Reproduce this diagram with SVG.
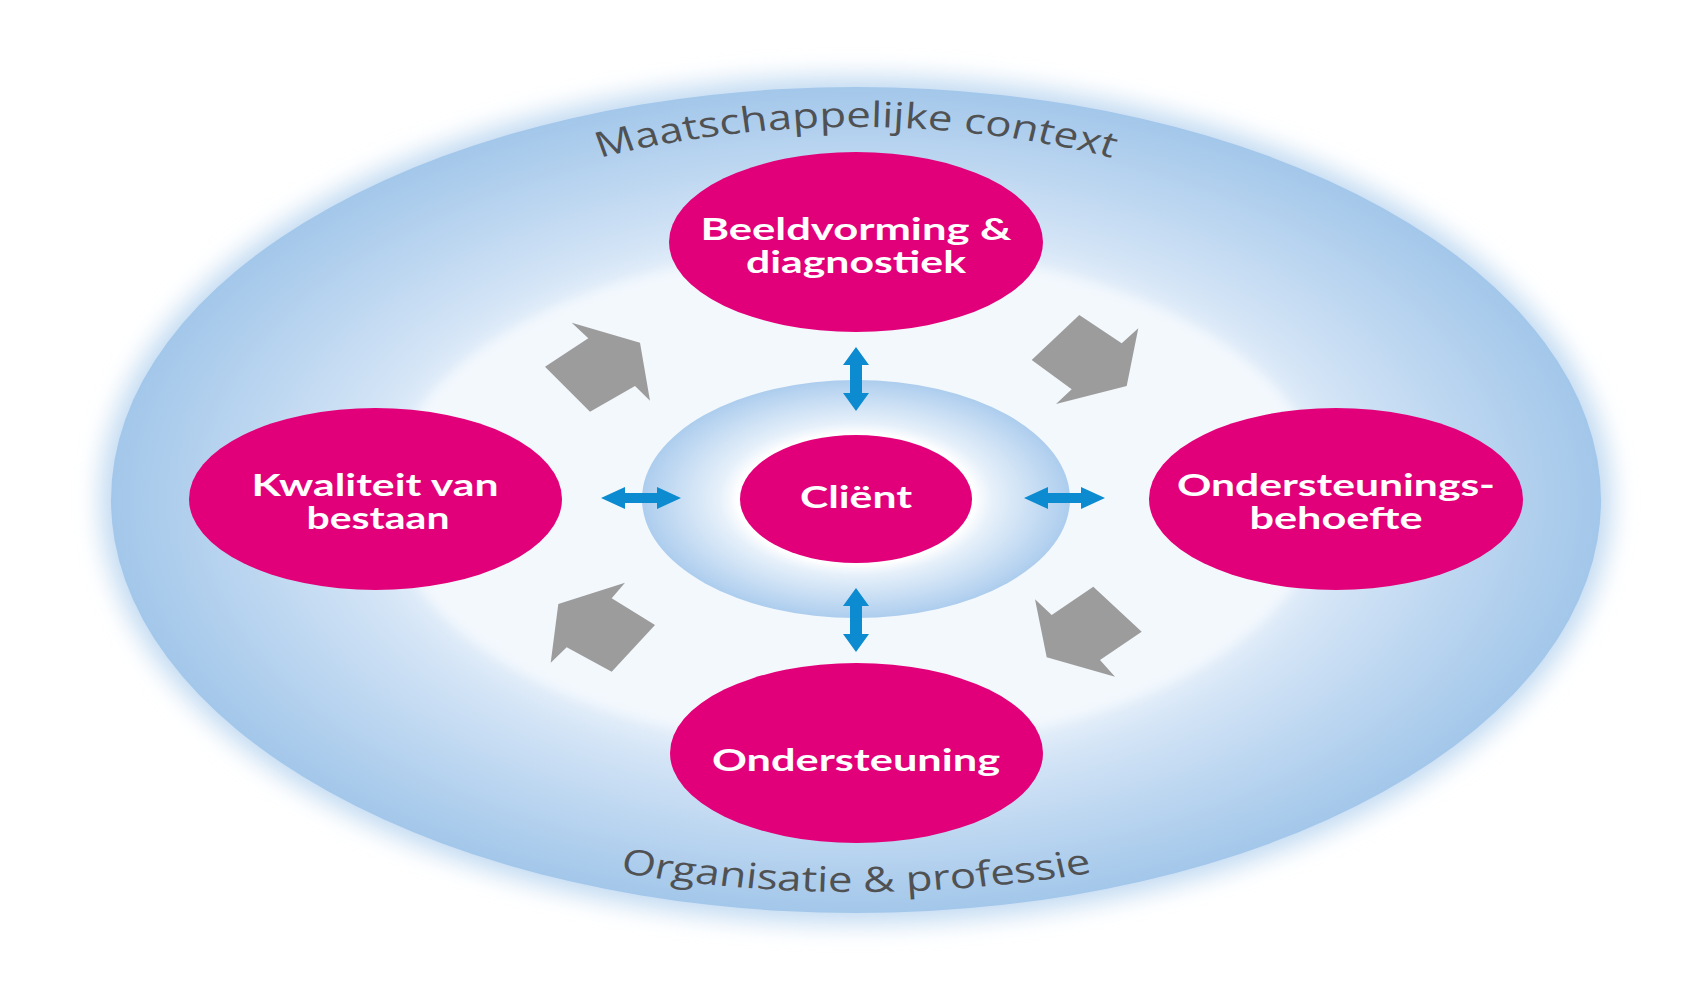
<svg xmlns="http://www.w3.org/2000/svg" width="1694" height="990" viewBox="0 0 1694 990">
  <defs>
    <radialGradient id="gOuter" cx="0.5" cy="0.5" r="0.5">
      <stop offset="0" stop-color="#f4f8fd"/>
      <stop offset="0.58" stop-color="#eaf2fb"/>
      <stop offset="0.68" stop-color="#d3e4f6"/>
      <stop offset="0.84" stop-color="#bad5f0"/>
      <stop offset="1" stop-color="#a3c7ea"/>
    </radialGradient>
    <radialGradient id="gRing" cx="0.5" cy="0.5" r="0.5">
      <stop offset="0" stop-color="#ffffff"/>
      <stop offset="0.55" stop-color="#ffffff"/>
      <stop offset="0.64" stop-color="#e6f0fa"/>
      <stop offset="0.82" stop-color="#cadff4"/>
      <stop offset="1" stop-color="#adcdee"/>
    </radialGradient>
    <filter id="fHalo" x="-10%" y="-10%" width="120%" height="120%">
      <feGaussianBlur stdDeviation="12"/>
    </filter>
    <filter id="fSoft" x="-10%" y="-10%" width="120%" height="120%">
      <feGaussianBlur stdDeviation="6"/>
    </filter>
    <path id="arcTop" d="M342.4,500 A513.6,373 0 0 1 1369.6,500"/>
    <path id="arcBottom" d="M248,500 A608,392 0 0 0 1464,500"/>
    <style>
      .pink { fill: #e2007a; }
      .lbl { font-family: "Lato", "Open Sans", "Liberation Sans", sans-serif; font-weight: 700; font-size: 30px; fill: #ffffff; text-anchor: middle; }
      .ctx { font-family: "Open Sans", "Lato", "Liberation Sans", sans-serif; font-weight: 400; font-size: 35px; fill: #505153; }
      .blue { fill: #0d8bd0; }
      .gray { fill: #9c9c9c; }
    </style>
  </defs>

  <rect width="1694" height="990" fill="#ffffff"/>

  <g id="background">
    <ellipse cx="856" cy="500" rx="756" ry="424" fill="#c3dbf2" filter="url(#fHalo)"/>
    <ellipse cx="856" cy="500" rx="745" ry="413" fill="url(#gOuter)"/>
    <ellipse cx="856" cy="498" rx="468" ry="249" fill="#f3f8fd" filter="url(#fSoft)"/>
  </g>

  <g id="context-labels">
    <g transform="translate(856,0) scale(1.25,1) translate(-856,0)">
      <text class="ctx" text-anchor="middle"><textPath href="#arcTop" startOffset="50%">Maatschappelijke context</textPath></text>
      <text class="ctx" text-anchor="middle"><textPath href="#arcBottom" startOffset="50%">Organisatie &amp; professie</textPath></text>
    </g>
  </g>

  <g id="ring">
    <ellipse cx="856" cy="499" rx="214" ry="119" fill="url(#gRing)"/>
  </g>

  <g id="connectors">
    <path class="blue" d="M856,347 L869,365 L862,365 L862,393 L869,393 L856,411 L843,393 L850,393 L850,365 L843,365 Z"/>
    <path class="blue" d="M856,588 L869,606 L862,606 L862,634 L869,634 L856,652 L843,634 L850,634 L850,606 L843,606 Z"/>
    <path class="blue" d="M601,498 L625,487 L625,493 L657,493 L657,487 L681,498 L657,509 L657,503 L625,503 L625,509 Z"/>
    <path class="blue" d="M1024,498 L1048,487 L1048,493 L1081,493 L1081,487 L1105,498 L1081,509 L1081,503 L1048,503 L1048,509 Z"/>
    <polygon class="gray" points="545,366.7 588.3,338.3 571.7,322.7 640,342.7 650,400.7 635,386 590,411.7"/>
    <polygon class="gray" points="1031.7,360 1079.3,315 1121.7,343.3 1138.3,328.3 1126.7,386 1056,404 1071.7,389.3"/>
    <polygon class="gray" points="558.3,604 625,582.7 611.7,598.3 655,625 611.7,671.7 566.7,647.3 550.7,662.7"/>
    <polygon class="gray" points="1046.7,657.3 1035,599.3 1051.7,615 1093.3,586.7 1141.7,631.7 1100,660 1115,676.7"/>
  </g>

  <g id="node-beeldvorming">
    <ellipse class="pink" cx="856" cy="242" rx="187" ry="90"/>
    <text class="lbl" x="856" y="240" textLength="311" lengthAdjust="spacingAndGlyphs">Beeldvorming &amp;</text>
    <text class="lbl" x="856" y="273" textLength="220" lengthAdjust="spacingAndGlyphs">diagnostiek</text>
  </g>

  <g id="node-kwaliteit">
    <ellipse class="pink" cx="375.5" cy="499" rx="186.5" ry="91"/>
    <text class="lbl" x="375" y="496" textLength="247" lengthAdjust="spacingAndGlyphs">Kwaliteit van</text>
    <text class="lbl" x="378" y="529" textLength="143" lengthAdjust="spacingAndGlyphs">bestaan</text>
  </g>

  <g id="node-ondersteuningsbehoefte">
    <ellipse class="pink" cx="1336" cy="499" rx="187" ry="91"/>
    <text class="lbl" x="1336" y="496" textLength="318" lengthAdjust="spacingAndGlyphs">Ondersteunings-</text>
    <text class="lbl" x="1336" y="529" textLength="173" lengthAdjust="spacingAndGlyphs">behoefte</text>
  </g>

  <g id="node-ondersteuning">
    <ellipse class="pink" cx="856.5" cy="753" rx="186.5" ry="90"/>
    <text class="lbl" x="856" y="771" textLength="288" lengthAdjust="spacingAndGlyphs">Ondersteuning</text>
  </g>

  <g id="node-client">
    <ellipse class="pink" cx="856" cy="499" rx="116" ry="64"/>
    <text class="lbl" x="856" y="508" textLength="112" lengthAdjust="spacingAndGlyphs">Cliënt</text>
  </g>
</svg>
